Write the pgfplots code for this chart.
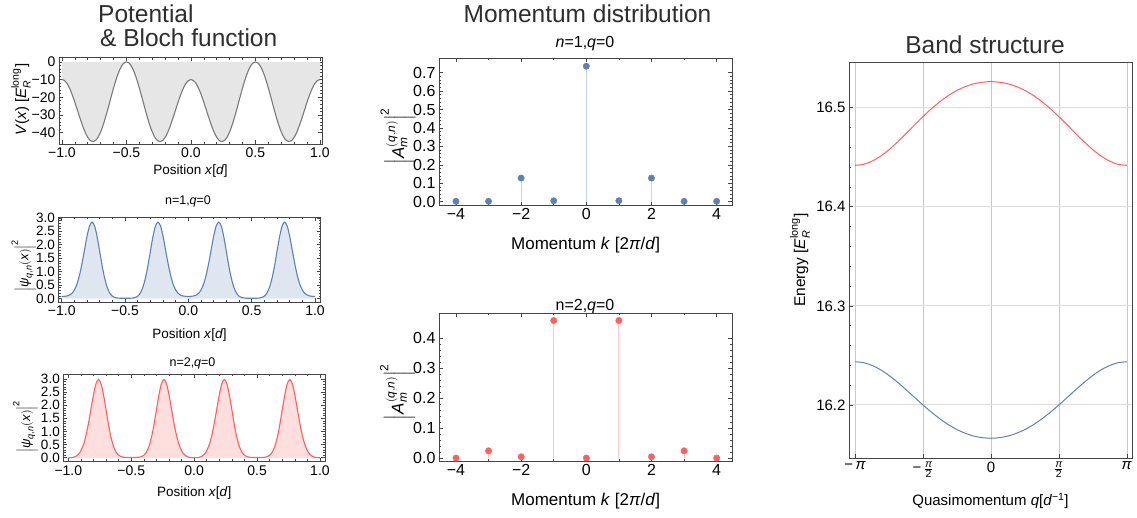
\documentclass[border=0pt]{standalone}
\usepackage{amsmath}
\usepackage{fontspec}
\setmainfont{Liberation Sans}
\usepackage{pgfplots}
\usepackage{pgfplotstable}
\pgfplotsset{compat=1.18}

\definecolor{mblue}{HTML}{5E81B5}
\definecolor{mbluefill}{HTML}{DFE6F0}
\definecolor{mbluestem}{HTML}{C9D5E8}
\definecolor{mred}{HTML}{FF5F5F}
\definecolor{mredfill}{HTML}{FFDEDE}
\definecolor{mredstem}{HTML}{FFC4C4}
\definecolor{vgray}{HTML}{7A7A7A}
\definecolor{vfill}{HTML}{E6E6E6}
\definecolor{frm}{HTML}{454545}
\definecolor{titlegray}{HTML}{2E2E2E}
\definecolor{gridh}{HTML}{DEDEDE}
\definecolor{gridv}{HTML}{C8C8C8}

\newcommand\fs[1]{\fontsize{#1}{#1}\selectfont}

% lattice potential and |psi|^2 for the two lowest bands at q=0
\pgfplotstableread{
x V p1 p2
-1.00 -10.00 0.080 0.000
-0.98 -10.59 0.083 0.004
-0.96 -12.32 0.095 0.018
-0.94 -15.07 0.125 0.055
-0.92 -18.67 0.190 0.130
-0.90 -22.87 0.320 0.270
-0.88 -27.39 0.530 0.500
-0.86 -31.94 0.860 0.850
-0.84 -36.20 1.300 1.310
-0.82 -39.88 1.810 1.860
-0.80 -42.73 2.320 2.400
-0.78 -44.53 2.700 2.820
-0.76 -45.16 2.840 2.980
-0.74 -44.53 2.690 2.820
-0.72 -42.66 2.290 2.390
-0.70 -39.64 1.750 1.820
-0.68 -35.62 1.200 1.240
-0.66 -30.84 0.740 0.760
-0.64 -25.56 0.410 0.420
-0.62 -20.10 0.200 0.210
-0.60 -14.78 0.090 0.095
-0.58 -9.90 0.040 0.042
-0.56 -5.77 0.020 0.020
-0.54 -2.63 0.012 0.012
-0.52 -0.67 0.010 0.009
-0.50 0.00 0.010 0.008
-0.48 -0.67 0.010 0.009
-0.46 -2.63 0.012 0.012
-0.44 -5.77 0.020 0.020
-0.42 -9.90 0.040 0.042
-0.40 -14.78 0.090 0.095
-0.38 -20.10 0.200 0.210
-0.36 -25.56 0.410 0.420
-0.34 -30.84 0.740 0.760
-0.32 -35.62 1.200 1.240
-0.30 -39.64 1.750 1.820
-0.28 -42.66 2.290 2.390
-0.26 -44.53 2.690 2.820
-0.24 -45.16 2.840 2.980
-0.22 -44.53 2.700 2.820
-0.20 -42.73 2.320 2.400
-0.18 -39.88 1.810 1.860
-0.16 -36.20 1.300 1.310
-0.14 -31.94 0.860 0.850
-0.12 -27.39 0.530 0.500
-0.10 -22.87 0.320 0.270
-0.08 -18.67 0.190 0.130
-0.06 -15.07 0.125 0.055
-0.04 -12.32 0.095 0.018
-0.02 -10.59 0.083 0.004
0.00 -10.00 0.080 0.000
0.02 -10.59 0.083 0.004
0.04 -12.32 0.095 0.018
0.06 -15.07 0.125 0.055
0.08 -18.67 0.190 0.130
0.10 -22.87 0.320 0.270
0.12 -27.39 0.530 0.500
0.14 -31.94 0.860 0.850
0.16 -36.20 1.300 1.310
0.18 -39.88 1.810 1.860
0.20 -42.73 2.320 2.400
0.22 -44.53 2.700 2.820
0.24 -45.16 2.840 2.980
0.26 -44.53 2.690 2.820
0.28 -42.66 2.290 2.390
0.30 -39.64 1.750 1.820
0.32 -35.62 1.200 1.240
0.34 -30.84 0.740 0.760
0.36 -25.56 0.410 0.420
0.38 -20.10 0.200 0.210
0.40 -14.78 0.090 0.095
0.42 -9.90 0.040 0.042
0.44 -5.77 0.020 0.020
0.46 -2.63 0.012 0.012
0.48 -0.67 0.010 0.009
0.50 0.00 0.010 0.008
0.52 -0.67 0.010 0.009
0.54 -2.63 0.012 0.012
0.56 -5.77 0.020 0.020
0.58 -9.90 0.040 0.042
0.60 -14.78 0.090 0.095
0.62 -20.10 0.200 0.210
0.64 -25.56 0.410 0.420
0.66 -30.84 0.740 0.760
0.68 -35.62 1.200 1.240
0.70 -39.64 1.750 1.820
0.72 -42.66 2.290 2.390
0.74 -44.53 2.690 2.820
0.76 -45.16 2.840 2.980
0.78 -44.53 2.700 2.820
0.80 -42.73 2.320 2.400
0.82 -39.88 1.810 1.860
0.84 -36.20 1.300 1.310
0.86 -31.94 0.860 0.850
0.88 -27.39 0.530 0.500
0.90 -22.87 0.320 0.270
0.92 -18.67 0.190 0.130
0.94 -15.07 0.125 0.055
0.96 -12.32 0.095 0.018
0.98 -10.59 0.083 0.004
1.00 -10.00 0.080 0.000
}\lattice

% momentum components |A_m|^2
\pgfplotstableread{
m a1 a2
-4 0.002 0.001
-3 0.002 0.025
-2 0.128 0.005
-1 0.005 0.460
0 0.735 0.001
1 0.005 0.460
2 0.128 0.005
3 0.002 0.025
4 0.002 0.001
}\momenta

% band energies over the Brillouin zone
\pgfplotstableread{
q E1 E2
-3.14159 16.2436 16.4418
-2.94524 16.2427 16.4428
-2.74889 16.2399 16.4460
-2.55254 16.2356 16.4510
-2.35619 16.2298 16.4576
-2.15984 16.2230 16.4654
-1.96350 16.2155 16.4738
-1.76715 16.2077 16.4825
-1.57080 16.2000 16.4910
-1.37445 16.1927 16.4990
-1.17810 16.1860 16.5061
-0.98175 16.1801 16.5123
-0.78540 16.1752 16.5174
-0.58905 16.1714 16.5213
-0.39270 16.1686 16.5241
-0.19635 16.1670 16.5257
0.00000 16.1664 16.5263
0.19635 16.1670 16.5257
0.39270 16.1686 16.5241
0.58905 16.1714 16.5213
0.78540 16.1752 16.5174
0.98175 16.1801 16.5123
1.17810 16.1860 16.5061
1.37445 16.1927 16.4990
1.57080 16.2000 16.4910
1.76715 16.2077 16.4825
1.96350 16.2155 16.4738
2.15984 16.2230 16.4654
2.35619 16.2298 16.4576
2.55254 16.2356 16.4510
2.74889 16.2399 16.4460
2.94524 16.2427 16.4428
3.14159 16.2436 16.4418
}\bands

\pgfplotsset{
  frm/.style={
    scale only axis, anchor=south west,
    axis line style={draw=frm, line width=0.8pt},
    tick style={draw=frm, line width=0.6pt},
    tick align=inside,
    major tick length=4pt,
    minor tick length=2.2pt,
  },
  posx/.style={
    xmin=-1.023, xmax=1.016,
    xtick={-1,-0.5,0,0.5,1},
    xticklabels={−1.0,−0.5,0.0,0.5,1.0},
    minor x tick num=4,
    tick label style={font=\fs{14}},
    xlabel={Position \textit{x}[\textit{d}]},
  },
  psiy/.style={
    ytick={0,0.5,1,1.5,2,2.5,3},
    yticklabels={0.0,0.5,1.0,1.5,2.0,2.5,3.0},
    minor y tick num=4,
    yticklabel style={font=\fs{13.5}},
    ylabel={$\left|\text{\textit{ψ}}_{\text{\textit{q},\textit{n}}}(\text{\textit{x}})\right|^{\text{2}}$},
  },
  momx/.style={
    xmin=-4.52, xmax=4.48,
    xtick={-4,-2,0,2,4},
    xticklabels={−4,−2,0,2,4},
    minor x tick num=1,
    tick label style={font=\fs{16}},
    xlabel={Momentum \textit{k} [2\textit{π}/\textit{d}]},
    ylabel={$\left|\text{\textit{A}}_{\text{\textit{m}}}^{(\text{\textit{q}},\text{\textit{n}})}\right|^{\text{2}}$},
    minor y tick num=4,
  },
}

\begin{document}
\begin{tikzpicture}
\useasboundingbox (0,0) rectangle (1137pt,518pt);

% column titles
\node[anchor=base west, inner sep=0, font=\fs{24.5}, text=titlegray] at (98pt,495.3pt) {Potential};
\node[anchor=base west, inner sep=0, font=\fs{24.5}, text=titlegray] at (100pt,471.3pt) {\&~Bloch function};
\node[anchor=base, inner sep=0, font=\fs{24.5}, text=titlegray] at (587.5pt,495.7pt) {Momentum distribution};
\node[anchor=base, inner sep=0, font=\fs{24.5}, text=titlegray] at (985pt,464.7pt) {Band structure};

% panel subtitles
\node[anchor=base, inner sep=0, font=\fs{16}] at (585pt,470.7pt) {\textit{n}=1,\textit{q}=0};
\node[anchor=base, inner sep=0, font=\fs{16}] at (585pt,207.3pt) {n=2,\textit{q}=0};
\node[anchor=base, inner sep=0, font=\fs{12.5}] at (188pt,313pt) {n=1,\textit{q}=0};
\node[anchor=base, inner sep=0, font=\fs{12.5}] at (192.5pt,151.3pt) {n=2,\textit{q}=0};

% potential
\begin{axis}[frm, posx, at={(59pt,374pt)}, width=263pt, height=86.5pt,
  ymin=-46.5, ymax=2.5,
  ytick={-40,-30,-20,-10,0}, yticklabels={−40,−30,−20,−10,0},
  minor y tick num=4,
  xlabel style={at={(axis description cs:0.5,-0.358)}, anchor=base, font=\fs{13.5}},
  ylabel={\textit{V}(\textit{x}) [$\text{\textit{E}}_{\text{\textit{R}}}^{\text{long}}$]},
  ylabel style={at={(axis description cs:-0.1445,0.51)}, anchor=center, font=\fs{15}},
]
\addplot[draw=none, fill=vfill, smooth] table[x=x, y=V] {\lattice} \closedcycle;
\addplot[vgray, line width=1.1pt, smooth] table[x=x, y=V] {\lattice};
\end{axis}

% |psi|^2, n=1
\begin{axis}[frm, posx, psiy, at={(58.3pt,215.5pt)}, width=262.4pt, height=85.2pt,
  xmin=-1.027, xmax=1.045, ymin=-0.146, ymax=3.02,
  xlabel style={at={(axis description cs:0.5,-0.4225)}, anchor=base, font=\fs{13.5}},
  ylabel style={at={(axis description cs:-0.1315,0.43)}, anchor=center, font=\fs{13}},
]
\addplot[draw=none, fill=mbluefill, smooth] table[x=x, y=p1] {\lattice} \closedcycle;
\addplot[mblue, line width=1.1pt, smooth] table[x=x, y=p1] {\lattice};
\end{axis}

% |psi|^2, n=2
\begin{axis}[frm, posx, psiy, at={(63.3pt,56.3pt)}, width=261.7pt, height=87.7pt,
  xmin=-1.04, xmax=1.04, ymin=-0.15, ymax=3.19,
  xlabel style={at={(axis description cs:0.5,-0.399)}, anchor=base, font=\fs{13.5}},
  ylabel style={at={(axis description cs:-0.1444,0.40)}, anchor=center, font=\fs{13}},
]
\addplot[draw=none, fill=mredfill, smooth] table[x=x, y=p2] {\lattice} \closedcycle;
\addplot[mred, line width=1.1pt, smooth] table[x=x, y=p2] {\lattice};
\end{axis}

% momentum distribution, n=1
\begin{axis}[frm, momx, at={(439pt,313pt)}, width=293.3pt, height=146.7pt,
  ymin=-0.018, ymax=0.778,
  ytick={0,0.1,0.2,0.3,0.4,0.5,0.6,0.7},
  yticklabels={0.0,0.1,0.2,0.3,0.4,0.5,0.6,0.7},
  xlabel style={at={(axis description cs:0.5,-0.303)}, anchor=base, font=\fs{17}},
  ylabel style={at={(axis description cs:-0.1398,0.47)}, anchor=center, font=\fs{17}},
]
\addplot[ycomb, mbluestem, line width=0.9pt] table[x=m, y=a1] {\momenta};
\addplot[only marks, mark=*, mark size=3.2pt, mblue] table[x=m, y=a1] {\momenta};
\end{axis}

% momentum distribution, n=2
\begin{axis}[frm, momx, at={(439pt,57pt)}, width=293.3pt, height=147.7pt,
  ymin=-0.009, ymax=0.484,
  ytick={0,0.1,0.2,0.3,0.4},
  yticklabels={0.0,0.1,0.2,0.3,0.4},
  xlabel style={at={(axis description cs:0.5,-0.301)}, anchor=base, font=\fs{17}},
  ylabel style={at={(axis description cs:-0.1415,0.467)}, anchor=center, font=\fs{17}},
]
\addplot[ycomb, mredstem, line width=0.9pt] table[x=m, y=a2] {\momenta};
\addplot[only marks, mark=*, mark size=3.2pt, mred] table[x=m, y=a2] {\momenta};
\end{axis}

% band structure
\begin{axis}[frm, at={(849pt,60pt)}, width=283pt, height=396pt,
  xmin=-3.2806, xmax=3.2616, ymin=16.1465, ymax=16.5461,
  tick pos=left,
  xtick={-3.14159,-1.5708,0,1.5708,3.14159},
  xticklabels={−\,\textit{π}, −\,$\frac{\text{\textit{π}}}{\text{2}}$, 0, $\frac{\text{\textit{π}}}{\text{2}}$, \textit{π}},
  ytick={16.2,16.3,16.4,16.5},
  yticklabels={16.2,16.3,16.4,16.5},
  minor y tick num=4,
  tick label style={font=\fs{15}},
  xmajorgrids, ymajorgrids,
  major x grid style={draw=gridv, line width=0.6pt},
  major y grid style={draw=gridh, line width=1pt},
  xlabel={Quasimomentum \textit{q}[\textit{d}\textsuperscript{−1}]},
  xlabel style={at={(axis description cs:0.5,-0.121)}, anchor=base, font=\fs{15}},
  ylabel={Energy [$\text{\textit{E}}_{\text{\textit{R}}}^{\text{long}}$]},
  ylabel style={at={(axis description cs:-0.173,0.5)}, anchor=center, font=\fs{15.5}},
]
\addplot[mblue, line width=1pt, smooth] table[x=q, y=E1] {\bands};
\addplot[mred, line width=1pt, smooth] table[x=q, y=E2] {\bands};
\end{axis}
\end{tikzpicture}
\end{document}
